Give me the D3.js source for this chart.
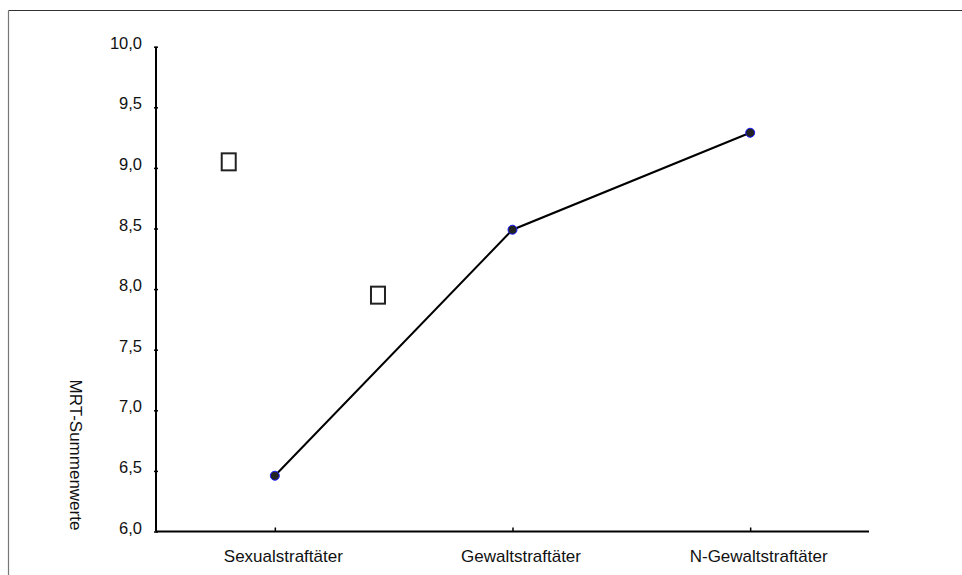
<!DOCTYPE html>
<html>
<head>
<meta charset="utf-8">
<script src="https://cdn.jsdelivr.net/npm/d3@7"></script>
<style>
  html, body { margin: 0; padding: 0; background: #fff; }
  svg { display: block; font-family: "Liberation Sans", Arial, sans-serif; }
</style>
</head>
<body>
<svg id="chart" width="962" height="575"></svg>
<script>
const categories = ["Sexualstraftäter", "Gewaltstraftäter", "N-Gewaltstraftäter"];
const values = [6.46, 8.49, 9.29];
const yTicks = [6.0, 6.5, 7.0, 7.5, 8.0, 8.5, 9.0, 9.5, 10.0];
const yLabel = "MRT-Summenwerte";
// unrendered legend glyphs (shown as empty boxes in the original):
// [position in category-index units, value]
const boxPos = [[-0.194, 9.05], [0.434, 7.95]];

(function () {
const svg = d3.select("#chart");
const pLeft = 156, pRight = 869, pTop = 46.7, pBottom = 531.5;

const x = d3.scalePoint().domain(categories).range([pLeft, pRight]).padding(0.5);
const y = d3.scaleLinear().domain([6, 10]).range([pBottom, pTop]);

// frame
svg.append("line").attr("x1", 8.5).attr("x2", 962).attr("y1", 10.5).attr("y2", 10.5)
  .attr("stroke", "#333").attr("stroke-width", 1.2);
svg.append("line").attr("x1", 8.5).attr("x2", 8.5).attr("y1", 10.5).attr("y2", 575)
  .attr("stroke", "#777").attr("stroke-width", 1.2);

// y axis
const yAxis = svg.append("g").attr("transform", `translate(${pLeft},0)`)
  .call(d3.axisLeft(y).tickValues(yTicks).tickSize(2).tickPadding(12)
    .tickFormat(d => d3.format(".1f")(d).replace(".", ",")));
yAxis.select(".domain").remove();
yAxis.selectAll(".tick line").attr("x1", -2).attr("x2", 2).attr("stroke", "#000").attr("stroke-width", 1.5);
yAxis.selectAll("text").attr("font-size", 16.5).attr("fill", "#111").attr("dy", "0.1em");
svg.append("line").attr("x1", pLeft).attr("x2", pLeft).attr("y1", pTop).attr("y2", pBottom)
  .attr("stroke", "#000").attr("stroke-width", 2);

// x axis
const xAxis = svg.append("g").attr("transform", `translate(0,${pBottom})`)
  .call(d3.axisBottom(x).tickSize(0).tickPadding(18));
xAxis.select(".domain").remove();
xAxis.selectAll("text").attr("font-size", 17).attr("fill", "#111").attr("dx", 8);
xAxis.selectAll(".tick").append("line").attr("y1", 0).attr("y2", -4)
  .attr("stroke", "#000").attr("stroke-width", 1.5);
svg.append("line").attr("x1", pLeft).attr("x2", pRight).attr("y1", pBottom).attr("y2", pBottom)
  .attr("stroke", "#000").attr("stroke-width", 2);

// y label
svg.append("text").attr("transform", `translate(70,455) rotate(90)`)
  .attr("text-anchor", "middle").attr("font-size", 17).attr("fill", "#111").text(yLabel);

// line
const data = categories.map((c, i) => ({c, v: values[i]}));
svg.append("path").datum(data)
  .attr("d", d3.line().x(d => x(d.c)).y(d => y(d.v)))
  .attr("fill", "none").attr("stroke", "#000").attr("stroke-width", 2);
svg.selectAll("circle.pt").data(data).enter().append("circle")
  .attr("class", "pt").attr("cx", d => x(d.c)).attr("cy", d => y(d.v)).attr("r", 4.5)
  .attr("fill", "#222").attr("stroke", "#1a1aff").attr("stroke-width", 1);

// empty glyph boxes
const step = x.step();
svg.selectAll("rect.box").data(boxPos).enter().append("rect")
  .attr("class", "box")
  .attr("x", d => x(categories[0]) + d[0] * step - 7)
  .attr("y", d => y(d[1]) - 8.5)
  .attr("width", 14).attr("height", 17)
  .attr("fill", "none").attr("stroke", "#222").attr("stroke-width", 2);
})();
</script>
</body>
</html>
